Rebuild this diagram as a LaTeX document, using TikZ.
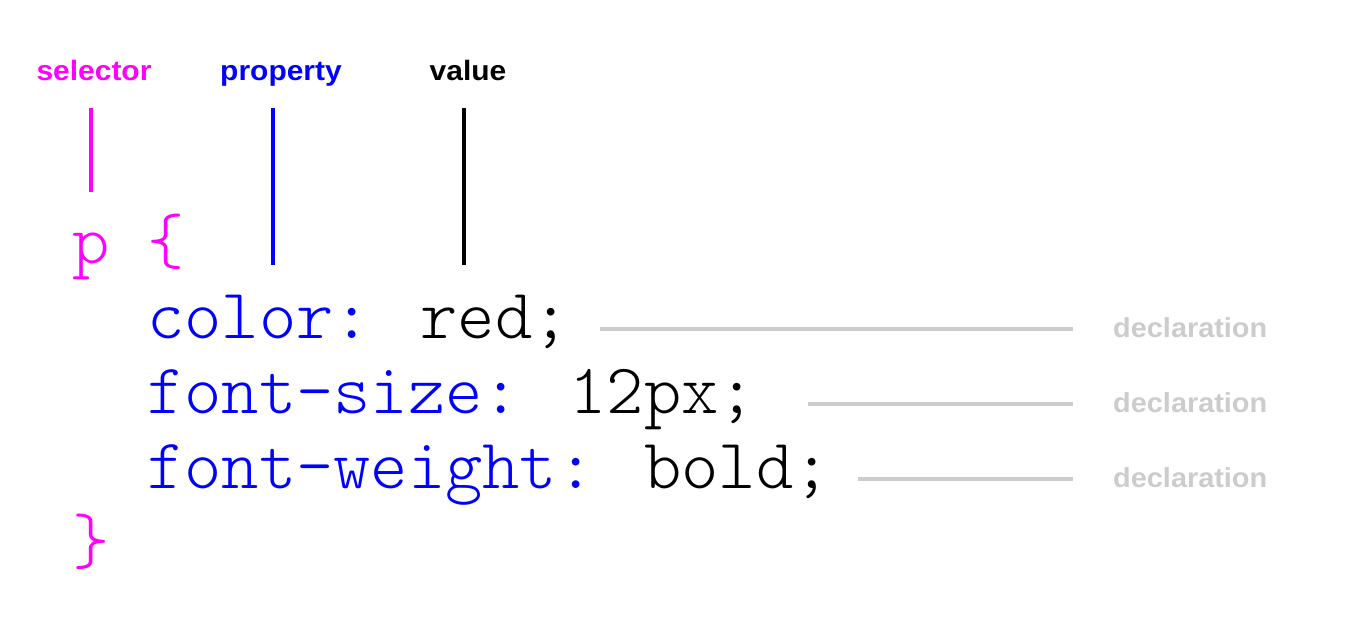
\documentclass[tikz,border=0pt]{standalone}
\usepackage{fontspec}
\newfontfamily\labfont{Liberation Sans}
\newfontfamily\codefont{lmmonolt10-regular.otf}
\definecolor{sel}{HTML}{FF00FF}
\definecolor{prop}{HTML}{0000FF}
\definecolor{decl}{HTML}{CCCCCC}
\begin{document}
\begin{tikzpicture}[x=1pt,y=-1pt,
  code/.style={anchor=base west,inner sep=0pt,font=\codefont\fontsize{71}{75}\selectfont},
  toplab/.style={anchor=base,inner sep=0pt,xscale=1.07,font=\labfont\bfseries\fontsize{28}{30}\selectfont},
  decllab/.style={anchor=base west,inner sep=0pt,text=decl,xscale=1.05,font=\labfont\bfseries\fontsize{27.5}{30}\selectfont},
  tick/.style={line width=4pt},
  declline/.style={line width=4pt,draw=decl}]
\useasboundingbox (0,0) rectangle (1355,625);
% top labels
\node[toplab,text=sel] (lsel) at (94,80) {selector};
\node[toplab,text=prop] (lprop) at (281,80) {property};
\node[toplab,text=black] (lval) at (468,80) {value};
% tick lines
\coordinate (s1) at (91,108); \coordinate (s2) at (91,192);
\coordinate (p1) at (273,108); \coordinate (p2) at (273,265);
\coordinate (v1) at (464,108); \coordinate (v2) at (464,265);
\draw[tick,sel] (s1) -- (s2);
\draw[tick,prop] (p1) -- (p2);
\draw[tick,black] (v1) -- (v2);
% code
\node[code,text=sel] (open) at (72.4,263) {p \{};
\node[code] (c1) at (147,338) {\textcolor{prop}{color:} red;};
\node[code] (c2) at (147,413) {\textcolor{prop}{font-size:} 12px;};
\node[code] (c3) at (147,488) {\textcolor{prop}{font-weight:} bold;};
\node[code,text=sel] (close) at (72.4,563) {\}};
% declaration labels
\node[decllab] (d1) at (1113,337) {declaration};
\node[decllab] (d2) at (1113,412) {declaration};
\node[decllab] (d3) at (1113,487) {declaration};
% connector lines
\coordinate (g1a) at (600,329); \coordinate (g1b) at (1073,329);
\coordinate (g2a) at (808,404); \coordinate (g2b) at (1073,404);
\coordinate (g3a) at (858,479); \coordinate (g3b) at (1073,479);
\draw[declline] (g1a) -- (g1b);
\draw[declline] (g2a) -- (g2b);
\draw[declline] (g3a) -- (g3b);
\end{tikzpicture}
\end{document}
